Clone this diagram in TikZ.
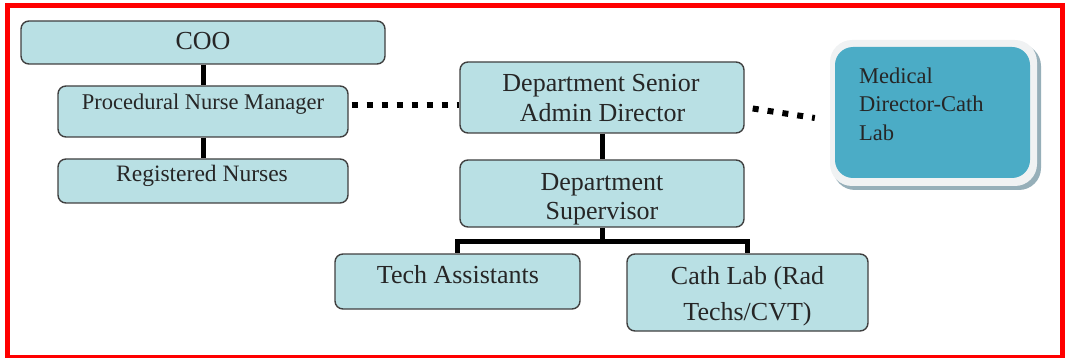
\documentclass[tikz,border=0pt]{standalone}
\usepackage{fontspec}
\setmainfont{Liberation Serif}
\usetikzlibrary{calc}
\definecolor{boxfill}{RGB}{185,224,228}
\definecolor{boxline}{RGB}{64,64,64}
\definecolor{teal}{RGB}{75,172,198}
\definecolor{shadowc}{RGB}{150,175,185}
\definecolor{rimc}{RGB}{240,242,243}
\begin{document}
\begin{tikzpicture}[x=1pt,y=-1pt,
  orgbox/.style={draw=boxline,fill=boxfill,line width=1.4pt,rounded corners=8pt,inner sep=0pt},
  big/.style={font=\fontsize{26}{30}\selectfont,inner sep=0pt,anchor=base,text=black!85},
  mid/.style={font=\fontsize{22.5}{27}\selectfont,inner sep=0pt,anchor=base,text=black!85},
  link/.style={line width=5pt,black},
  dotlink/.style={line width=6pt,black,dash pattern=on 6pt off 9pt}]
\useasboundingbox (0,0) rectangle (1065,358);
% red frame
\draw[red,line width=5pt] (7.5,5.5) rectangle (1062.5,357);
% boxes
\node[orgbox,minimum width=364pt,minimum height=43pt] (coo) at (203,42.5) {};
\node[orgbox,minimum width=290pt,minimum height=51pt] (pnm) at (203,111.5) {};
\node[orgbox,minimum width=290pt,minimum height=44pt] (rn) at (203,181) {};
\node[orgbox,minimum width=284pt,minimum height=71pt] (dsad) at (602,97.5) {};
\node[orgbox,minimum width=284pt,minimum height=67pt] (ds) at (602,193.5) {};
\node[orgbox,minimum width=245pt,minimum height=55pt] (ta) at (457.5,281.5) {};
\node[orgbox,minimum width=241pt,minimum height=77pt] (cl) at (747.5,292.5) {};
% medical director box
\fill[shadowc,rounded corners=22pt] (833,44) rectangle (1041,190);
\fill[rimc,rounded corners=22pt] (830,40) rectangle (1037,186);
\node[fill=teal,rounded corners=18pt,minimum width=195pt,minimum height=131pt,inner sep=0pt] (med) at (932.5,112.5) {};
% texts
\node[big] (cooT) at (203,50) {COO};
\node[mid] (pnmT) at (203,110) {Procedural Nurse Manager};
\node[font=\fontsize{23.5}{28}\selectfont,inner sep=0pt,anchor=base,text=black!85] (rnT) at (202,181.5) {Registered Nurses};
\node[big] (dsadT1) at (601,91.5) {Department Senior};
\node[big] (dsadT2) at (602.5,121.5) {Admin Director};
\node[big] (dsT1) at (602,190) {Department};
\node[big] (dsT2) at (602,219.5) {Supervisor};
\node[big] (taT) at (458,283.5) {Tech Assistants};
\node[big] (clT1) at (747.5,284.5) {Cath Lab (Rad};
\node[big] (clT2) at (747.5,320) {Techs/CVT)};
\node[mid,anchor=base west] (medT1) at (859,83.5) {Medical};
\node[mid,anchor=base west] (medT2) at (859,112) {Director-Cath};
\node[mid,anchor=base west] (medT3) at (859,140.5) {Lab};
% connectors
\draw[link] (coo.south) -- (pnm.north);
\draw[link] (pnm.south) -- (rn.north);
\draw[link] (dsad.south) -- (ds.north);
\coordinate (bar) at ($(ds.south)+(0,14)$);
\draw[link,line join=miter] (ds.south) -- (bar) -| (ta.north);
\draw[link,line join=miter] (bar) -| (cl.north);
\draw[dotlink,dash phase=-3pt] ($(pnm.east)+(0,-6.5)$) -- ($(dsad.west)+(0,7.5)$);
\draw[dotlink] ($(dsad.east)+(8,11)$) -- ($(med.west)+(-20,5.5)$);
\end{tikzpicture}
\end{document}
